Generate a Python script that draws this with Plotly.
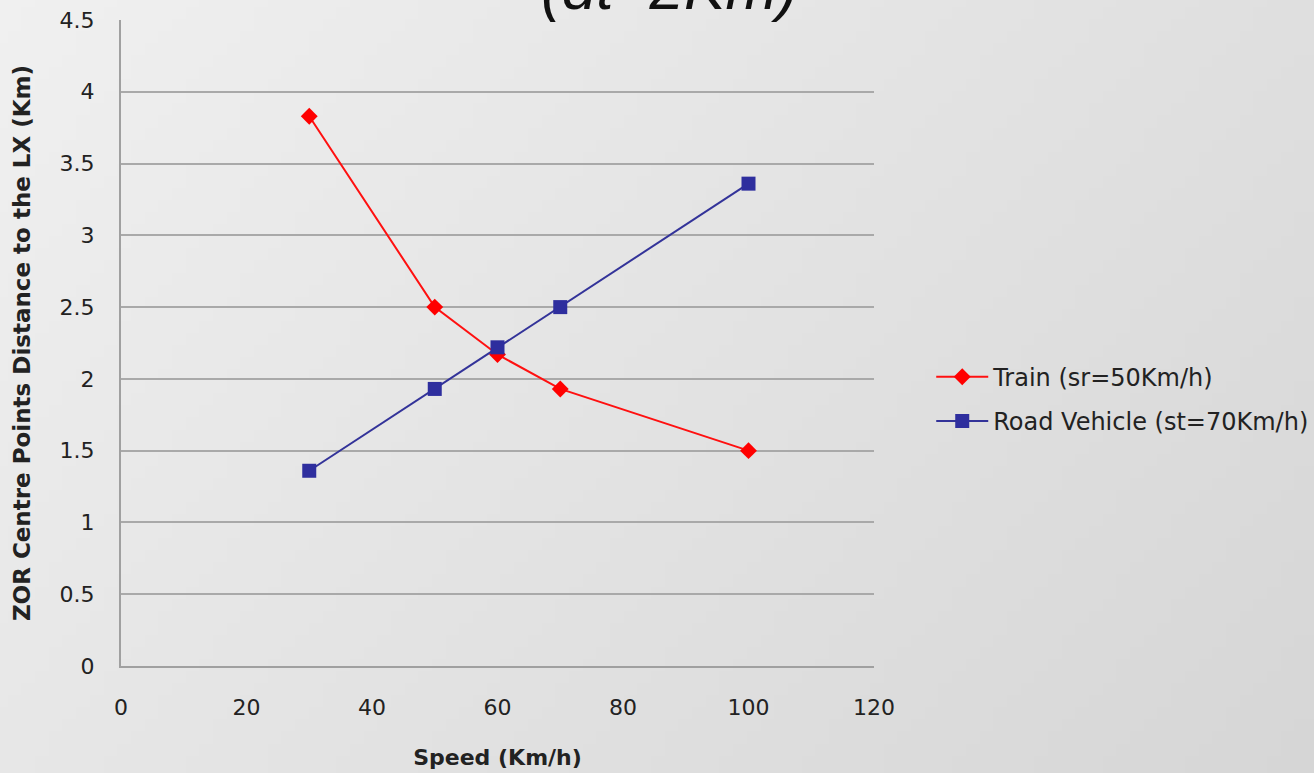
import base64, struct, zlib
import plotly.graph_objects as go

speed = [30, 50, 60, 70, 100]
train = [3.83, 2.50, 2.17, 1.93, 1.50]
road = [1.36, 1.93, 2.22, 2.50, 3.36]
train_name = "Train (sr=50Km/h)"
road_name = "Road Vehicle (st=70Km/h)"
x_ticks = [0, 20, 40, 60, 80, 100, 120]
y_ticks = [0, 0.5, 1, 1.5, 2, 2.5, 3, 3.5, 4, 4.5]
y_labels = ["0", "0.5", "1", "1.5", "2", "2.5", "3", "3.5", "4", "4.5"]

FONT = "DejaVu Sans, Liberation Sans, sans-serif"


def gradient_png(w=96, h=64):
    rows = b""
    for j in range(h):
        row = b"\x00"
        for i in range(w):
            t = 0.65 * i / (w - 1) + 0.35 * j / (h - 1)
            v = int(round(240 - 26 * t))
            row += bytes([v, v, v])
        rows += row

    def chunk(tag, data):
        c = struct.pack(">I", len(data)) + tag + data
        return c + struct.pack(">I", zlib.crc32(tag + data) & 0xFFFFFFFF)

    png = b"\x89PNG\r\n\x1a\n"
    png += chunk(b"IHDR", struct.pack(">IIBBBBB", w, h, 8, 2, 0, 0, 0))
    png += chunk(b"IDAT", zlib.compress(rows, 9))
    png += chunk(b"IEND", b"")
    return "data:image/png;base64," + base64.b64encode(png).decode()


fig = go.Figure()
fig.add_trace(go.Scatter(
    x=speed, y=train, name=train_name, mode="lines+markers",
    legendgroup="a",
    line=dict(color="#ff1010", width=2),
    marker=dict(symbol="diamond", size=13, color="#ff0000"),
))
fig.add_trace(go.Scatter(
    x=speed, y=road, name=road_name, mode="lines+markers",
    legendgroup="b",
    line=dict(color="#333399", width=2),
    marker=dict(symbol="square", size=14, color="#2e2e9e"),
))

fig.update_layout(
    width=1314, height=773,
    margin=dict(l=121, r=440, t=20, b=107, autoexpand=False),
    paper_bgcolor="#e6e6e6",
    plot_bgcolor="rgba(0,0,0,0)",
    font=dict(family=FONT, color="#222222"),
    images=[dict(source=gradient_png(), xref="paper", yref="paper",
                 x=-121 / 753, y=1 + 20 / 646, sizex=1314 / 753, sizey=773 / 646,
                 xanchor="left", yanchor="top", sizing="stretch", layer="below")],
    showlegend=True,
    legend=dict(x=1.076, y=0.413, xanchor="left", yanchor="middle",
                font=dict(size=24, color="#222222", family=FONT),
                bgcolor="rgba(0,0,0,0)",
                tracegroupgap=10, traceorder="grouped", itemwidth=52),
    annotations=[dict(text="<i>(dt=2Km)</i>", xref="paper", yref="paper",
                      x=(669 - 121) / 753, y=1, xanchor="center", yanchor="bottom",
                      yshift=-4, showarrow=False,
                      font=dict(size=62, color="#111111",
                                family="Liberation Sans, Arial, sans-serif"))],
)

fig.update_xaxes(
    range=[0, 120], tickvals=x_ticks, showgrid=False, zeroline=False, automargin=False,
    showline=True, linecolor="#a0a0a0", linewidth=2,
    ticks="outside", ticklen=21, tickcolor="rgba(0,0,0,0)",
    tickfont=dict(size=22, color="#222222", family=FONT),
    title=dict(text="<b>Speed (Km/h)</b>", font=dict(size=22, color="#222222", family=FONT),
               standoff=30),
)
fig.update_yaxes(
    range=[0, 4.5], tickvals=y_ticks, ticktext=y_labels, automargin=False,
    showgrid=True, gridcolor="#a9a9a9", gridwidth=1.5, zeroline=False,
    showline=True, linecolor="#a0a0a0", linewidth=2,
    ticks="outside", ticklen=20, tickcolor="rgba(0,0,0,0)",
    tickfont=dict(size=22, color="#222222", family=FONT),
    title=dict(text="<b>ZOR Centre Points Distance to the LX (Km)</b>",
               font=dict(size=23, color="#222222", family=FONT), standoff=23),
)

fig.write_html("out.html", config={"displayModeBar": False},
               post_script="document.body.style.margin='0';document.body.style.overflow='hidden';")
